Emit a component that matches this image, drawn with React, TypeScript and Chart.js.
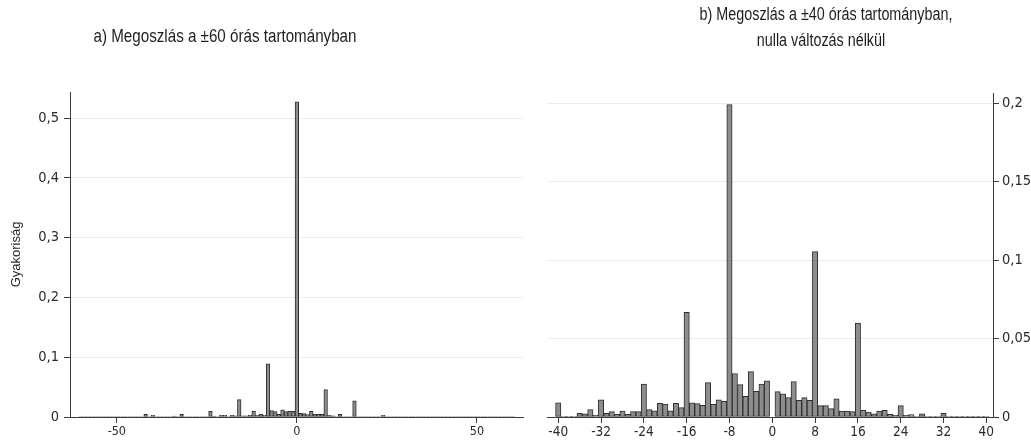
import React, { useEffect, useRef } from 'react';
import { Chart, registerables } from 'chart.js';

Chart.register(...registerables);

// ---------- data ----------
const leftHours: number[] = [];
for (let h = -60; h <= 60; h++) leftHours.push(h);

// frequencies for hours -60 .. 60
const leftValues: number[] = [
  // -60 .. -43
  0.0008, 0.0008, 0.0008, 0.0008, 0.0008, 0.0008, 0.0008, 0.0008, 0.0008,
  0.0008, 0.0008, 0.0008, 0.0008, 0.0008, 0.0008, 0.0008, 0.0008, 0.0008,
  // -42 .. -25
  0.0045, 0.0008, 0.003, 0.0008, 0.0008, 0.0008, 0.0008, 0.0008, 0.0017,
  0.0008, 0.0045, 0.0008, 0.0008, 0.0008, 0.0008, 0.0008, 0.0008, 0.0008,
  // -24 .. -13
  0.0095, 0.0017, 0.0008, 0.003, 0.003, 0.0008, 0.003, 0.002, 0.029, 0.002, 0.002, 0.003,
  // -12 .. -1
  0.0095, 0.003, 0.0045, 0.003, 0.089, 0.0106, 0.009, 0.0045, 0.012, 0.009, 0.0095, 0.0095,
  // 0
  0.527,
  // 1 .. 12
  0.006, 0.0056, 0.004, 0.0095, 0.0045, 0.0045, 0.0045, 0.046, 0.003, 0.002, 0.0008, 0.0045,
  // 13 .. 24
  0.0008, 0.0008, 0.0008, 0.027, 0.0008, 0.0008, 0.0008, 0.0008, 0.0008, 0.0008, 0.0008, 0.003,
  // 25 .. 60
  0.0008, 0.0008, 0.0008, 0.0008, 0.0008, 0.0008, 0.0008, 0.0008, 0.0008,
  0.0008, 0.0008, 0.0008, 0.0008, 0.0008, 0.0008, 0.0008, 0.0008, 0.0008,
  0.0008, 0.0008, 0.0008, 0.0008, 0.0008, 0.0008, 0.0008, 0.0008, 0.0008,
  0.0008, 0.0008, 0.0008, 0.0008, 0.0008, 0.0008, 0.0008, 0.0008, 0.0008,
];

const leftXTicks = [-50, 0, 50];
const leftYTicks = [0, 0.1, 0.2, 0.3, 0.4, 0.5];

const rightNegHours: number[] = [];
for (let h = -40; h <= -1; h++) rightNegHours.push(h);
const rightPosHours: number[] = [];
for (let h = 1; h <= 40; h++) rightPosHours.push(h);

// frequencies for hours -40 .. -1
const rightNegValues: number[] = [
  0.009, 0.0005, 0.0005, 0.0005, 0.0023, 0.002, 0.0047, 0.001,
  0.011, 0.0023, 0.0034, 0.0017, 0.0038, 0.0017, 0.0034, 0.0034,
  0.021, 0.0047, 0.004, 0.0087, 0.0083, 0.004, 0.0087, 0.006,
  0.0666, 0.0091, 0.0085, 0.0074, 0.0219, 0.0081, 0.011, 0.01,
  0.199, 0.0277, 0.0206, 0.0132, 0.0289, 0.0164, 0.021, 0.023,
];
// frequencies for hours 1 .. 40
const rightPosValues: number[] = [
  0.0162, 0.0147, 0.0123, 0.0226, 0.0106, 0.0123, 0.0106, 0.1053,
  0.0072, 0.0072, 0.0053, 0.0115, 0.0038, 0.0038, 0.0034, 0.0598,
  0.0043, 0.0032, 0.002, 0.0038, 0.0043, 0.0017, 0.001, 0.0072,
  0.001, 0.0015, 0.0004, 0.002, 0.0002, 0.0004, 0.0002, 0.0023,
  0.0002, 0.0004, 0.0004, 0.0004, 0.0002, 0.0002, 0.0002, 0.0004,
];

const rightXTicks = [-40, -32, -24, -16, -8, 0, 8, 16, 24, 32, 40];
const rightYTicks = [0, 0.05, 0.1, 0.15, 0.2];

const leftTitle = 'a) Megoszlás a ±60 órás tartományban';
const rightTitle1 = 'b) Megoszlás a ±40 órás tartományban,';
const rightTitle2 = 'nulla változás nélkül';
const yTitle = 'Gyakoriság';

// ---------- styles ----------
const COND = '"DejaVu Sans Condensed", "Liberation Sans", sans-serif';
const SANS = '"Liberation Sans", Arial, sans-serif';
const BAR_FILL = '#8d8d90';
const BAR_EDGE = '#2e2e2e';
const AXIS = '#3a3a3a';
const GRID = '#ececec';
const TEXT = '#2a2a2a';
const TITLE = '#1e1e1e';

const fmt = (v: number | string) => String(v).replace('.', ',');

// draws titles, horizontally condensed to mimic a narrow typeface
const textPlugin = {
  id: 'textItems',
  afterDraw(chart: any, _args: any, opts: any) {
    const ctx = chart.ctx;
    for (const t of opts.items || []) {
      ctx.save();
      ctx.font = t.font;
      ctx.fillStyle = t.color;
      ctx.textAlign = 'center';
      ctx.textBaseline = 'middle';
      ctx.translate(t.x, t.y);
      ctx.scale(t.sx || 1, 1);
      ctx.fillText(t.text, 0, 0);
      ctx.restore();
    }
  },
};

const axisExtPlugin = {
  id: 'axisExt',
  afterDraw(chart: any, _args: any, opts: any) {
    if (!opts || !opts.left) return;
    const { ctx, chartArea } = chart;
    ctx.save();
    ctx.strokeStyle = AXIS;
    ctx.lineWidth = 1;
    ctx.beginPath();
    const y = Math.round(chartArea.bottom) + 0.5;
    ctx.moveTo(chartArea.left - opts.left, y);
    ctx.lineTo(chartArea.left, y);
    ctx.stroke();
    ctx.restore();
  },
};

function makeConfig(p: {
  points: { x: number; y: number }[];
  xMin: number; xMax: number; xTicks: number[]; xFont: number;
  yMax: number; yTicks: number[]; yFont: number;
  yPos: 'left' | 'right';
  yWidth: number;
  yPad: number;
  padding: { left: number; right: number; top: number; bottom: number };
  yTitleText?: string;
  texts: any[];
  ext: number;
}): any {
  return {
    type: 'bar',
    data: {
      datasets: [
        {
          data: p.points,
          backgroundColor: BAR_FILL,
          borderColor: BAR_EDGE,
          borderWidth: 1,
          borderSkipped: false,
          barPercentage: 1,
          categoryPercentage: 1,
        },
      ],
    },
    options: {
      responsive: false,
      animation: false,
      devicePixelRatio: 1,
      layout: { padding: p.padding },
      plugins: {
        legend: { display: false },
        tooltip: { enabled: false },
        textItems: { items: p.texts },
        axisExt: { left: p.ext },
      },
      scales: {
        x: {
          type: 'linear',
          min: p.xMin,
          max: p.xMax,
          offset: false,
          afterBuildTicks: (s: any) => {
            s.ticks = p.xTicks.map((v) => ({ value: v }));
          },
          afterFit: (s: any) => {
            s.height = 23;
          },
          grid: {
            offset: false,
            drawOnChartArea: false,
            drawTicks: true,
            tickLength: 6,
            tickColor: AXIS,
          },
          border: { color: AXIS, width: 1 },
          ticks: {
            font: { family: COND, size: p.xFont },
            color: TEXT,
            padding: 1,
            maxRotation: 0,
            autoSkip: false,
            callback: (v: any) => fmt(v),
          },
        },
        y: {
          type: 'linear',
          position: p.yPos,
          min: 0,
          max: p.yMax,
          afterBuildTicks: (s: any) => {
            s.ticks = p.yTicks.map((v) => ({ value: v }));
          },
          afterFit: (s: any) => {
            s.width = p.yWidth;
          },
          grid: {
            color: GRID,
            lineWidth: 1,
            tickColor: AXIS,
            tickLength: 6,
            drawTicks: true,
          },
          border: { color: AXIS, width: 1 },
          ticks: {
            font: { family: COND, size: p.yFont },
            color: TEXT,
            padding: p.yPad,
            autoSkip: false,
            callback: (v: any) => fmt(v),
          },
          title: p.yTitleText
            ? {
                display: true,
                text: p.yTitleText,
                font: { family: SANS, size: 13 },
                color: TEXT,
                padding: { top: 3, bottom: 0 },
              }
            : { display: false },
        },
      },
    },
    plugins: [textPlugin, axisExtPlugin],
  };
}

export default function App() {
  const leftRef = useRef<HTMLCanvasElement | null>(null);
  const rightRef = useRef<HTMLCanvasElement | null>(null);

  useEffect(() => {
    const leftPoints = leftHours.map((h, i) => ({ x: h, y: leftValues[i] }));
    const rightPoints = [
      ...rightNegHours.map((h, i) => ({ x: h, y: rightNegValues[i] })),
      ...rightPosHours.map((h, i) => ({ x: h, y: rightPosValues[i] })),
    ];

    const left = new Chart(
      leftRef.current as HTMLCanvasElement,
      makeConfig({
        points: leftPoints,
        xMin: -63,
        xMax: 62.8,
        xTicks: leftXTicks,
        xFont: 12.5,
        yMax: 0.5435,
        yTicks: leftYTicks,
        yFont: 14.5,
        yPos: 'left',
        yWidth: 64,
        yPad: 5,
        padding: { left: 6, right: 17, top: 92, bottom: 0 },
        yTitleText: yTitle,
        texts: [
          { text: leftTitle, x: 225, y: 37, font: `18.5px ${SANS}`, color: TITLE, sx: 0.82 },
        ],
        ext: 6,
      })
    );

    const right = new Chart(
      rightRef.current as HTMLCanvasElement,
      makeConfig({
        points: rightPoints,
        xMin: -42.1,
        xMax: 41.25,
        xTicks: rightXTicks,
        xFont: 13.5,
        yMax: 0.2064,
        yTicks: rightYTicks,
        yFont: 14.5,
        yPos: 'right',
        yWidth: 38,
        yPad: 3,
        padding: { left: 7, right: 0, top: 93, bottom: 0 },
        texts: [
          { text: rightTitle1, x: 286, y: 15, font: `17.5px ${SANS}`, color: TITLE, sx: 0.82 },
          { text: rightTitle2, x: 281, y: 41, font: `17.5px ${SANS}`, color: TITLE, sx: 0.82 },
        ],
        ext: 0,
      })
    );

    return () => {
      left.destroy();
      right.destroy();
    };
  }, []);

  return (
    <div
      style={{
        position: 'fixed',
        left: 0,
        top: 0,
        width: 1031,
        height: 440,
        background: '#ffffff',
      }}
    >
      <canvas
        ref={leftRef}
        width={540}
        height={440}
        style={{ position: 'absolute', left: 0, top: 0, width: 540, height: 440 }}
      />
      <canvas
        ref={rightRef}
        width={491}
        height={440}
        style={{ position: 'absolute', left: 540, top: 0, width: 491, height: 440 }}
      />
    </div>
  );
}
